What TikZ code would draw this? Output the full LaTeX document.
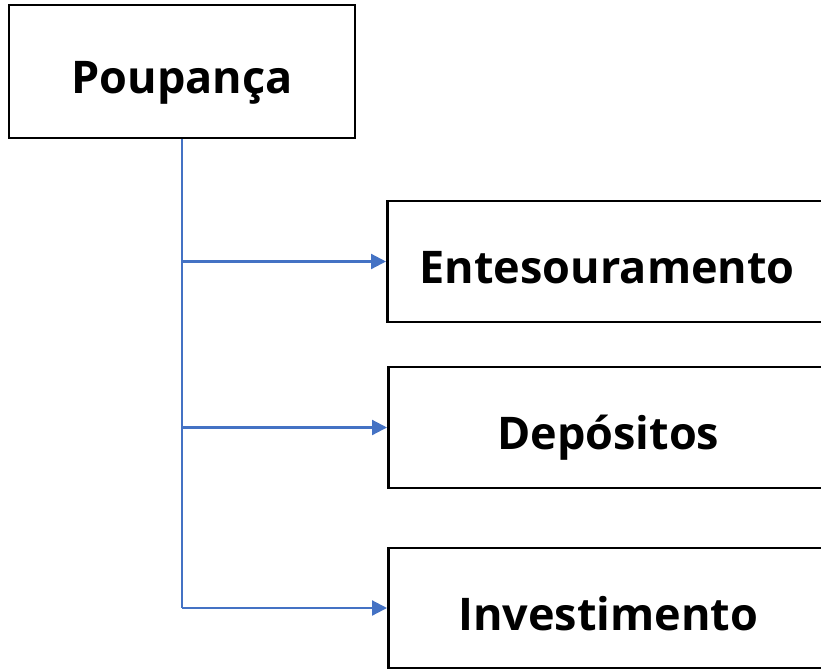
\documentclass[tikz,border=0pt]{standalone}
\usepackage{fontspec}
\setmainfont{Open Sans}
\usetikzlibrary{arrows.meta}
\definecolor{linkblue}{HTML}{4472C4}
\tikzstyle{mainbox}=[
      rectangle,
      draw=black,
      line width = 2.5pt,
      fill = white,
      inner sep = 0pt,
      text height = 44pt,
      text depth = 0pt,
      font = \fontsize{45}{54}\selectfont\bfseries
      ]
\tikzstyle{link}=[
      draw=linkblue,
      line width = 2.2pt,
      -{Triangle[length=15pt,width=15pt]}
      ]

\begin{document}
\begin{tikzpicture}[x=1pt,y=-1pt]
\useasboundingbox (0,0) rectangle (821,670);
\node [mainbox, minimum width=346pt, minimum height=133pt] (poup) at (182,71.5) {Poupança};
\node [mainbox, minimum width=440pt, minimum height=121pt, anchor=west] (ent) at (386,261.5) {Entesouramento};
\node [mainbox, minimum width=440pt, minimum height=121pt, anchor=west] (dep) at (387,427.5) {Depósitos};
\node [mainbox, minimum width=440pt, minimum height=120pt, anchor=west] (inv) at (387,608) {Investimento};
% tronco e ramos
\draw [draw=linkblue, line width=2.2pt] (poup.south) -- (poup.south |- inv.west);
\draw [link] (poup.south |- ent.west) -- (ent.west);
\draw [link] (poup.south |- dep.west) -- (dep.west);
\draw [link] (poup.south |- inv.west) -- (inv.west);
\end{tikzpicture}
\end{document}
